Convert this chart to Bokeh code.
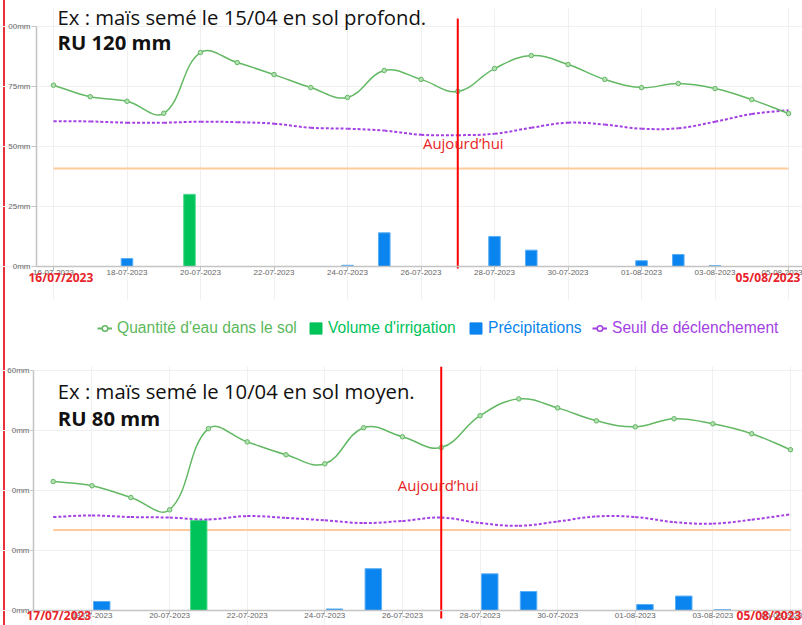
import numpy as np
from bokeh.plotting import figure
from bokeh.models import (ColumnDataSource, Label, Legend, LegendItem,
                          FixedTicker, Range1d)
from bokeh.layouts import column
from bokeh.embed import file_html
from bokeh.resources import INLINE
from bokeh.transform import dodge

# ---------------- data : top chart ----------------
top_dates = ["16-07-2023", "17-07-2023", "18-07-2023", "19-07-2023", "20-07-2023",
             "21-07-2023", "22-07-2023", "23-07-2023", "24-07-2023", "25-07-2023",
             "26-07-2023", "27-07-2023", "28-07-2023", "29-07-2023", "30-07-2023",
             "31-07-2023", "01-08-2023", "02-08-2023", "03-08-2023", "04-08-2023",
             "05-08-2023"]
top_soil = [75.4, 70.6, 68.7, 63.7, 89.0, 84.8, 79.8, 74.4, 70.3, 81.5, 77.8,
            72.8, 82.3, 87.7, 84.0, 77.8, 74.4, 76.1, 74.0, 69.4, 63.6]
top_irrigation = [0, 0, 0, 0, 30, 0, 0, 0, 0, 0, 0,
                  0, 0, 0, 0, 0, 0, 0, 0, 0, 0]
top_rain = [0, 0, 3.3, 0, 0, 0, 0, 0, 0.5, 14.0, 0,
            0, 12.5, 6.8, 0, 0, 2.4, 5.0, 0.4, 0, 0]
top_trigger = [60.4, 60.3, 59.8, 59.8, 60.2, 60.0, 59.4, 57.7, 57.3, 56.5, 54.8,
               54.6, 55.2, 57.7, 59.8, 59.0, 57.3, 57.5, 60.2, 63.4, 65.0]
top_threshold = 40.8
top_title = "Ex : maïs semé le 15/04 en sol profond."
top_ru = "RU 120 mm"
top_today = "27-07-2023"
top_first = "16/07/2023"
top_last = "05/08/2023"
top_yticks = [0, 25, 50, 75, 100]
top_ylabels = ["0mm", "25mm", "50mm", "75mm", "00mm"]

# ---------------- data : bottom chart ----------------
bot_dates = ["17-07-2023", "18-07-2023", "19-07-2023", "20-07-2023", "21-07-2023",
             "22-07-2023", "23-07-2023", "24-07-2023", "25-07-2023", "26-07-2023",
             "27-07-2023", "28-07-2023", "29-07-2023", "30-07-2023", "31-07-2023",
             "01-08-2023", "02-08-2023", "03-08-2023", "04-08-2023", "05-08-2023"]
bot_soil = [42.9, 41.5, 37.6, 33.5, 60.5, 56.1, 51.8, 48.8, 60.8, 57.8,
            54.2, 64.8, 70.4, 67.4, 63.1, 61.1, 63.8, 62.1, 58.8, 53.5]
bot_irrigation = [0, 0, 0, 0, 30, 0, 0, 0, 0, 0,
                  0, 0, 0, 0, 0, 0, 0, 0, 0, 0]
bot_rain = [0, 3.0, 0, 0, 0, 0, 0, 0.5, 13.9, 0,
            0, 12.2, 6.3, 0, 0, 2.0, 4.8, 0.3, 0, 0]
bot_trigger = [31.1, 31.6, 31.1, 30.9, 30.3, 31.4, 30.8, 30.0, 29.1, 29.8,
               30.9, 29.1, 28.2, 29.6, 31.3, 31.1, 29.4, 28.9, 30.2, 32.0]
bot_threshold = 26.8
bot_title = "Ex : maïs semé le 10/04 en sol moyen."
bot_ru = "RU 80 mm"
bot_today = "27-07-2023"
bot_first = "17/07/2023"
bot_last = "05/08/2023"
bot_yticks = [0, 20, 40, 60, 80]
bot_ylabels = ["0mm", "0mm", "0mm", "0mm", "60mm"]

legend_labels = ["Quantité d'eau dans le sol", "Volume d'irrigation",
                 "Précipitations", "Seuil de déclenchement"]
today_text = "Aujourd\u2019hui"

# ---------------- styles ----------------
GREEN = "#63b863"
GREEN_FILL = "#b3dfb3"
IRR = "#00c35a"
RAIN = "#0a84ee"
PURPLE = "#a33fe3"
ORANGE = "#ffcb9c"
TODAY = "#ff0000"
RED_TXT = "#e8232b"
AXIS = "#c4c4c4"
GRID = "#f0f0f0"


def bezier_source(xs, ys, sx, sy, t=0.4):
    """Chart.js-like spline control points, computed in pixel space."""
    px = np.asarray(xs, float) * sx
    py = np.asarray(ys, float) * sy
    n = len(px)
    pc = np.zeros((n, 2))
    nc = np.zeros((n, 2))
    for i in range(n):
        a = max(i - 1, 0)
        b = min(i + 1, n - 1)
        d01 = np.hypot(px[i] - px[a], py[i] - py[a])
        d12 = np.hypot(px[b] - px[i], py[b] - py[i])
        tot = d01 + d12
        s01 = d01 / tot if tot else 0.0
        s12 = d12 / tot if tot else 0.0
        dx = px[b] - px[a]
        dy = py[b] - py[a]
        pc[i] = (px[i] - t * s01 * dx, py[i] - t * s01 * dy)
        nc[i] = (px[i] + t * s12 * dx, py[i] + t * s12 * dy)
    return ColumnDataSource(dict(
        x0=px[:-1] / sx, y0=py[:-1] / sy, x1=px[1:] / sx, y1=py[1:] / sy,
        cx0=nc[:-1, 0] / sx, cy0=nc[:-1, 1] / sy,
        cx1=pc[1:, 0] / sx, cy1=pc[1:, 1] / sy))


def build(dates, soil, irrig, rain, trig, thr, title, ru, today, first, last,
          yticks, ylabels, g):
    n = len(dates)
    idx = list(range(n))
    p = figure(width=802, height=g["h"], output_backend="svg", toolbar_location=None,
               x_range=Range1d(g["x0"], g["x1"]), y_range=Range1d(g["y0"], g["y1"]),
               min_border_left=0, min_border_right=0,
               min_border_top=g["bt"], min_border_bottom=0)
    p.border_fill_color = None
    p.background_fill_color = None
    p.outline_line_color = None

    frame_w = 802
    frame_h = g["h"] - g["bt"]
    sx = frame_w / (g["x1"] - g["x0"])
    sy = frame_h / (g["y1"] - g["y0"])

    # threshold line (first to last date)
    p.segment(x0=[idx[0]], x1=[idx[-1]], y0=[thr], y1=[thr],
              line_color=ORANGE, line_width=2)

    # bars
    irr_src = ColumnDataSource(dict(x=[i for i in idx if irrig[i] > 0],
                                    top=[v for v in irrig if v > 0]))
    rain_src = ColumnDataSource(dict(x=[i for i in idx if rain[i] > 0],
                                     top=[v for v in rain if v > 0]))
    p.vbar(x=dodge("x", g["irr_off"]), top="top", width=g["bw"], source=irr_src,
           fill_color=IRR, line_color="#4fd98e", line_width=1)
    p.vbar(x=dodge("x", g["rain_off"]), top="top", width=g["bw"], source=rain_src,
           fill_color=RAIN, line_color="#5aaef5", line_width=1)

    # trigger (dotted purple)
    p.bezier(x0="x0", y0="y0", x1="x1", y1="y1", cx0="cx0", cy0="cy0",
             cx1="cx1", cy1="cy1", source=bezier_source(idx, trig, sx, sy),
             line_color=PURPLE, line_width=2, line_dash="3 2")

    # soil water (green)
    p.bezier(x0="x0", y0="y0", x1="x1", y1="y1", cx0="cx0", cy0="cy0",
             cx1="cx1", cy1="cy1", source=bezier_source(idx, soil, sx, sy),
             line_color=GREEN, line_width=1.5)
    p.scatter(x=idx, y=soil, size=4.5, line_color=GREEN, fill_color=GREEN_FILL,
              line_width=1)

    # today marker
    ti = dates.index(today)
    p.segment(x0=[ti], x1=[ti], y0=[g["tl"][0]], y1=[g["tl"][1]],
              line_color=TODAY, line_width=2)
    p.add_layout(Label(x=ti, y=g["ay"], x_offset=g["aoff"], text=today_text,
                       text_align="center", text_font="Open Sans",
                       text_font_size="15px", text_color="#e81e25"))

    # titles
    p.add_layout(Label(x=g["tx"], y=g["ty1"], text=title, text_font="Open Sans",
                       text_font_size="20.3px", text_color="#111111"))
    p.add_layout(Label(x=g["tx"], y=g["ty2"], text=ru, text_font="Open Sans",
                       text_font_style="bold", text_font_size="20.3px",
                       text_color="#111111"))

    # red start / end dates
    for xx, tt in ((g["d0x"], first), (g["d1x"], last)):
        p.add_layout(Label(x=xx, y=g["dy"], text=tt, text_font="Open Sans",
                           text_font_style="bold", text_font_size="12px",
                           text_color=RED_TXT))

    # axes (placed at fixed positions inside the frame)
    xt = [i for i in idx if i % 2 == g["xpar"]]
    p.xaxis.ticker = FixedTicker(ticks=xt)
    p.xgrid.ticker = FixedTicker(ticks=xt)
    p.xaxis.major_label_overrides = {i: dates[i] for i in xt}
    p.xaxis.fixed_location = 0
    p.xaxis.bounds = (g["yax"], g["x1"])
    p.yaxis.ticker = FixedTicker(ticks=yticks)
    p.ygrid.ticker = FixedTicker(ticks=yticks)
    p.yaxis.major_label_overrides = {t: l for t, l in zip(yticks, ylabels)}
    p.yaxis.fixed_location = g["yax"]
    p.yaxis.bounds = (0, yticks[-1])
    for ax in (p.xaxis[0], p.yaxis[0]):
        ax.axis_line_color = AXIS
        ax.axis_line_width = 1.5
        ax.major_tick_line_color = AXIS
        ax.major_tick_in = 0
        ax.minor_tick_line_color = None
        ax.major_label_text_font = "Liberation Sans"
        ax.major_label_text_font_size = "8px"
        ax.major_label_text_color = "#666666"
    p.xaxis.major_tick_out = g["xto"]
    p.xaxis.major_label_standoff = 0
    p.yaxis.major_tick_out = g["yto"]
    p.yaxis.major_label_standoff = 1
    p.grid.grid_line_color = GRID
    return p


# top chart: canvas y 8..300, value 0 at y=266 (2.405 px/mm); 16/07 at x=53 (36.75 px/day)
g_top = dict(h=300, bt=8, x0=-1.442, x1=20.38, y0=-14.14, y1=107.28, yax=-0.463,
             bw=0.315, irr_off=-0.30, rain_off=0.0, tl=(-0.83, 103.1),
             tx=0.11, ty1=98.1, ty2=87.7, ay=47.3, aoff=5.5,
             d0x=-0.68, d1x=18.56, dy=-8.3, xpar=0, xto=4, yto=5)
# bottom chart: canvas y 366..625, value 0 at y=610 (3.006 px/mm); 17/07 at x=52.7 (38.8 px/day)
g_bot = dict(h=280, bt=21, x0=-1.358, x1=19.31, y0=-4.99, y1=81.17, yax=-0.508,
             bw=0.425, irr_off=-0.25, rain_off=0.25, tl=(-2.66, 81.17),
             tx=0.12, ty1=68.4, ty2=59.5, ay=38.3, aoff=-3,
             d0x=-0.69, d1x=17.61, dy=-4.6, xpar=1, xto=3, yto=3)

top = build(top_dates, top_soil, top_irrigation, top_rain, top_trigger, top_threshold,
            top_title, top_ru, top_today, top_first, top_last,
            top_yticks, top_ylabels, g_top)
bot = build(bot_dates, bot_soil, bot_irrigation, bot_rain, bot_trigger, bot_threshold,
            bot_title, bot_ru, bot_today, bot_first, bot_last,
            bot_yticks, bot_ylabels, g_bot)

# ---------------- legend strip (series drawn off-range, only legend shows) ----------------
strip = figure(width=802, height=45, output_backend="svg", toolbar_location=None,
               x_range=Range1d(1000, 1001), y_range=Range1d(1000, 1001),
               min_border=0, min_border_left=0, min_border_right=0,
               x_axis_location=None, y_axis_location=None)
strip.grid.visible = False
strip.outline_line_color = None
strip.background_fill_color = None
strip.border_fill_color = None
tidx = list(range(len(top_dates)))
r1a = strip.line(x=tidx, y=top_soil, line_color=GREEN, line_width=2)
r1b = strip.scatter(x=tidx, y=top_soil, size=6, line_color=GREEN,
                    fill_color="white", line_width=1.5)
r2 = strip.vbar(x=tidx, top=top_irrigation, width=0.3, fill_color=IRR, line_color=IRR)
r3 = strip.vbar(x=tidx, top=top_rain, width=0.3, fill_color=RAIN, line_color=RAIN)
r4a = strip.line(x=tidx, y=top_trigger, line_color=PURPLE, line_width=2)
r4b = strip.scatter(x=tidx, y=top_trigger, size=6, line_color=PURPLE,
                    fill_color="white", line_width=1.5)
legend_renderers = [[r1a, r1b], [r2], [r3], [r4a, r4b]]
legend_colors = ["#5cb85c", IRR, RAIN, PURPLE]
legend_x = [97, 308, 468, 592]
for lab, rs, col, lx in zip(legend_labels, legend_renderers, legend_colors, legend_x):
    strip.add_layout(Legend(items=[LegendItem(label=lab, renderers=rs, index=0)],
                            location=(lx, 8), orientation="horizontal",
                            label_text_font="Liberation Sans",
                            label_text_font_size="15.6px", label_text_color=col,
                            glyph_width=15, glyph_height=14, label_standoff=5,
                            padding=0, margin=0, spacing=0,
                            border_line_color=None, background_fill_color=None))

layout = column(top, strip, bot, spacing=0, styles={
    "background": "linear-gradient(90deg, rgba(255,255,255,0) 3px, #e8303a 3px, "
                  "#e8303a 5px, rgba(255,255,255,0) 5px)"})

open("out.html", "w").write(file_html(layout, INLINE))
